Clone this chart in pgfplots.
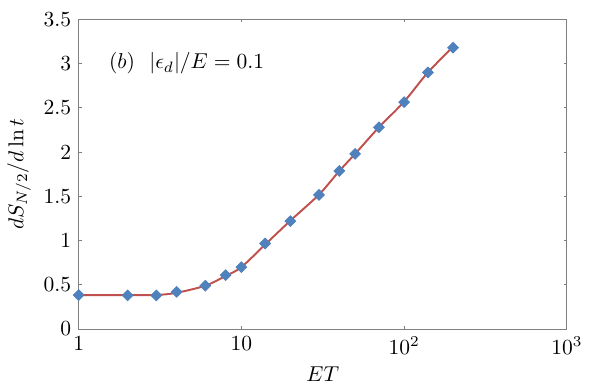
\documentclass[border=0pt]{standalone}
\usepackage{pgfplots}
\pgfplotsset{compat=1.18}
\definecolor{curvered}{RGB}{192,80,77}
\definecolor{markblue}{RGB}{79,129,189}
\definecolor{axisgray}{RGB}{128,128,128}
\begin{document}
\begin{tikzpicture}
\begin{axis}[
    scale only axis,
    width=227pt, height=144pt,
    xmode=log,
    xmin=1, xmax=1000,
    ymin=0, ymax=3.5,
    xtick={1,10,100,1000},
    xticklabels={$1$,$10$,$10^2$,$10^3$},
    ytick={0,0.5,1,1.5,2,2.5,3,3.5},
    yticklabels={0,0.5,1,1.5,2,2.5,3,3.5},
    xminorticks=false,
    axis line style={axisgray, line width=0.45pt},
    tick style={axisgray, line width=0.45pt},
    major tick length=1.4pt,
    xlabel={$ET$},
    ylabel={$dS_{N/2}/d\ln t$},
    xlabel style={yshift=1pt},
    ylabel style={yshift=-1pt},
    clip=false,
]
% smooth curve
\addplot[curvered, line width=0.9pt, smooth, no marks] coordinates {
    (1,0.384) (2,0.383) (3,0.385) (4,0.41) (6,0.49) (8,0.60)
    (10,0.70) (14,0.955) (20,1.225) (30,1.52) (40,1.787) (50,1.98)
    (70,2.28) (100,2.57) (140,2.90) (200,3.19)
};
% data points
\addplot[only marks, mark=square*, mark size=1.75pt, markblue,
    mark options={rotate=45}] coordinates {
    (1,0.384) (2,0.38) (3,0.38) (4,0.42) (6,0.49) (8,0.61)
    (10,0.70) (14,0.967) (20,1.22) (30,1.516) (40,1.787) (50,1.98)
    (70,2.28) (100,2.565) (140,2.90) (200,3.18)
};
\node[anchor=west] at (axis cs:1.38,3.0) {$(b)\ \ |\epsilon_d|/E=0.1$};
\coordinate (tr) at (rel axis cs:1,1);
\end{axis}
% white margin on the right and top, as in the original figure
\path (tr) ++(21pt,9pt);
\end{tikzpicture}
\end{document}
